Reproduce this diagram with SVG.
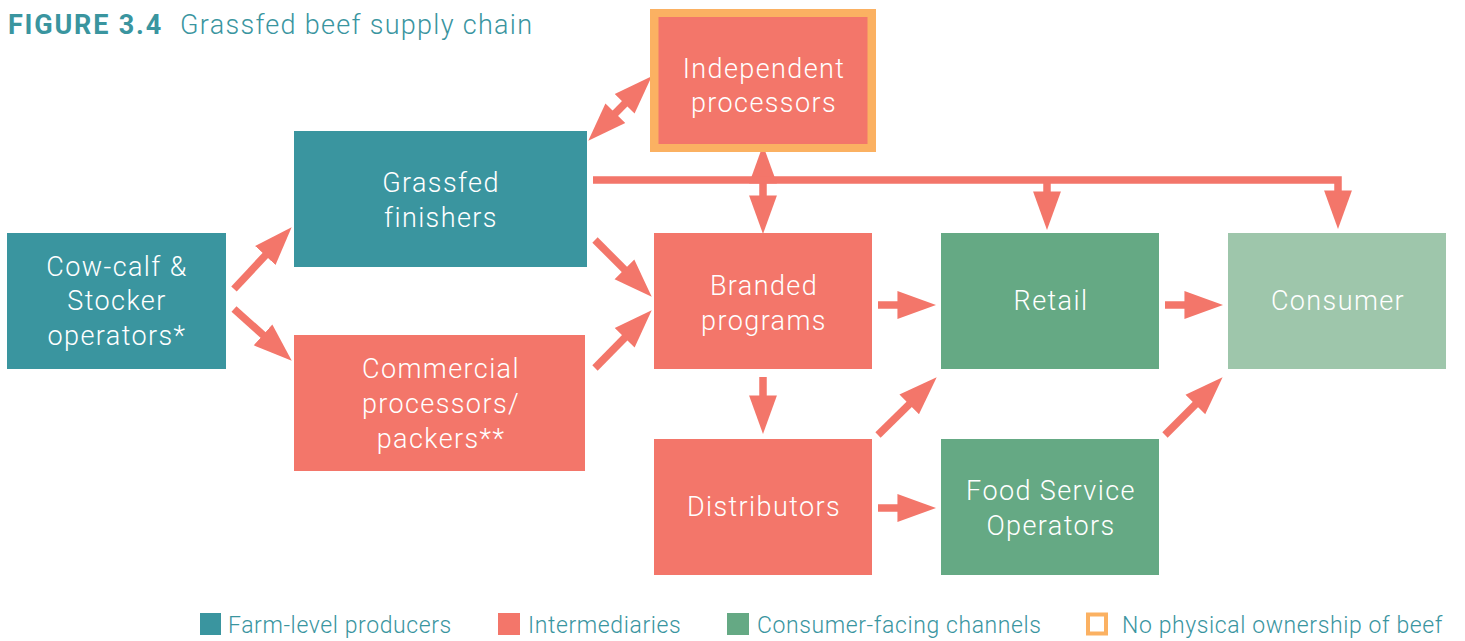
<svg xmlns="http://www.w3.org/2000/svg" width="1465" height="641" viewBox="0 0 1465 641">
<style>
.t{font-family:Roboto,"Liberation Sans",sans-serif;font-weight:300;font-size:27px;letter-spacing:1.4px;fill:#ffffff;text-anchor:middle}
.teal{fill:#3a959f}.sal{fill:#f3766a}.grn{fill:#65a984}.lgrn{fill:#9ec6ab}
.ttl{font-family:Roboto,"Liberation Sans",sans-serif;font-size:27px;letter-spacing:1.3px;fill:#3a959f}
.lg{font-family:Roboto,"Liberation Sans",sans-serif;font-weight:300;font-size:23px;letter-spacing:0.6px;fill:#3a959f}
.c{stroke:#f3766a;stroke-width:7.5;fill:none;stroke-linejoin:miter}
.a{marker-end:url(#h)}
.d{marker-start:url(#h);marker-end:url(#h)}
</style>
<defs>
<marker id="h" markerUnits="userSpaceOnUse" markerWidth="40" markerHeight="30" viewBox="0 -14 37 28" refX="22" refY="0" orient="auto-start-reverse">
<path d="M0,-13 L36,0 L0,13 z" fill="#f3766a"/>
</marker>
</defs>
<rect width="1465" height="641" fill="#ffffff"/>
<g id="title">
<text class="ttl" x="8" y="34"><tspan font-weight="700" letter-spacing="1.8px">FIGURE 3.4</tspan><tspan font-weight="300" x="180">Grassfed beef supply chain</tspan></text>
</g>
<g id="connectors">
<path class="c a" d="M234,289 L281.4,238.2"/>
<path class="c a" d="M234,309 L280.6,350.7"/>
<path class="c a" d="M595,240 L641.1,286.1"/>
<path class="c a" d="M595,368 L641.2,321"/>
<path class="c d" d="M598.8,130 L641.2,87"/>
<path class="c d" d="M763,160 L763,219"/>
<path class="c a" d="M593,180 H1338 V214"/>
<path class="c a" d="M1047,180 V215"/>
<path class="c a" d="M878,305 H921"/>
<path class="c a" d="M763,377 V419"/>
<path class="c a" d="M878,435 L926,387.8"/>
<path class="c a" d="M878,508 H921"/>
<path class="c a" d="M1165,305 H1208"/>
<path class="c a" d="M1165,435 L1212,387.8"/>
</g>
<g id="cowcalf">
<rect class="teal" x="7" y="233" width="219" height="136"/>
<text class="t" x="117" y="276">Cow-calf &amp;</text>
<text class="t" x="117" y="310">Stocker</text>
<text class="t" x="117" y="345">operators*</text>
</g>
<g id="grassfed">
<rect class="teal" x="294" y="131" width="293" height="136"/>
<text class="t" x="441" y="192">Grassfed</text>
<text class="t" x="441" y="227">finishers</text>
</g>
<g id="commercial">
<rect class="sal" x="294" y="335" width="291" height="136"/>
<text class="t" x="441" y="378">Commercial</text>
<text class="t" x="441" y="413">processors/</text>
<text class="t" x="441" y="448">packers**</text>
</g>
<g id="independent">
<rect x="650" y="9" width="226" height="143" fill="#fbb162"/>
<rect class="sal" x="658.5" y="17" width="209" height="127"/>
<text class="t" x="764" y="78">Independent</text>
<text class="t" x="764" y="112">processors</text>
</g>
<g id="branded">
<rect class="sal" x="654" y="233" width="218" height="136"/>
<text class="t" x="764" y="295">Branded</text>
<text class="t" x="764" y="330">programs</text>
</g>
<g id="distributors">
<rect class="sal" x="654" y="439" width="218" height="136"/>
<text class="t" x="764" y="516">Distributors</text>
</g>
<g id="retail">
<rect class="grn" x="941" y="233" width="218" height="136"/>
<text class="t" x="1051" y="310">Retail</text>
</g>
<g id="foodservice">
<rect class="grn" x="941" y="439" width="218" height="136"/>
<text class="t" x="1051" y="500">Food Service</text>
<text class="t" x="1051" y="535">Operators</text>
</g>
<g id="consumer">
<rect class="lgrn" x="1228" y="233" width="218" height="136"/>
<text class="t" x="1338" y="310">Consumer</text>
</g>
<g id="legend">
<rect class="teal" x="200" y="613" width="21" height="22"/>
<text class="lg" x="228" y="633">Farm-level producers</text>
<rect class="sal" x="498" y="613" width="22" height="22"/>
<text class="lg" x="528" y="633">Intermediaries</text>
<rect class="grn" x="727" y="613" width="22" height="22"/>
<text class="lg" x="757" y="633">Consumer-facing channels</text>
<rect x="1088" y="614.5" width="18" height="19" fill="#ffffff" stroke="#fbb162" stroke-width="4"/>
<text class="lg" x="1122" y="633">No physical ownership of beef</text>
</g>
</svg>
